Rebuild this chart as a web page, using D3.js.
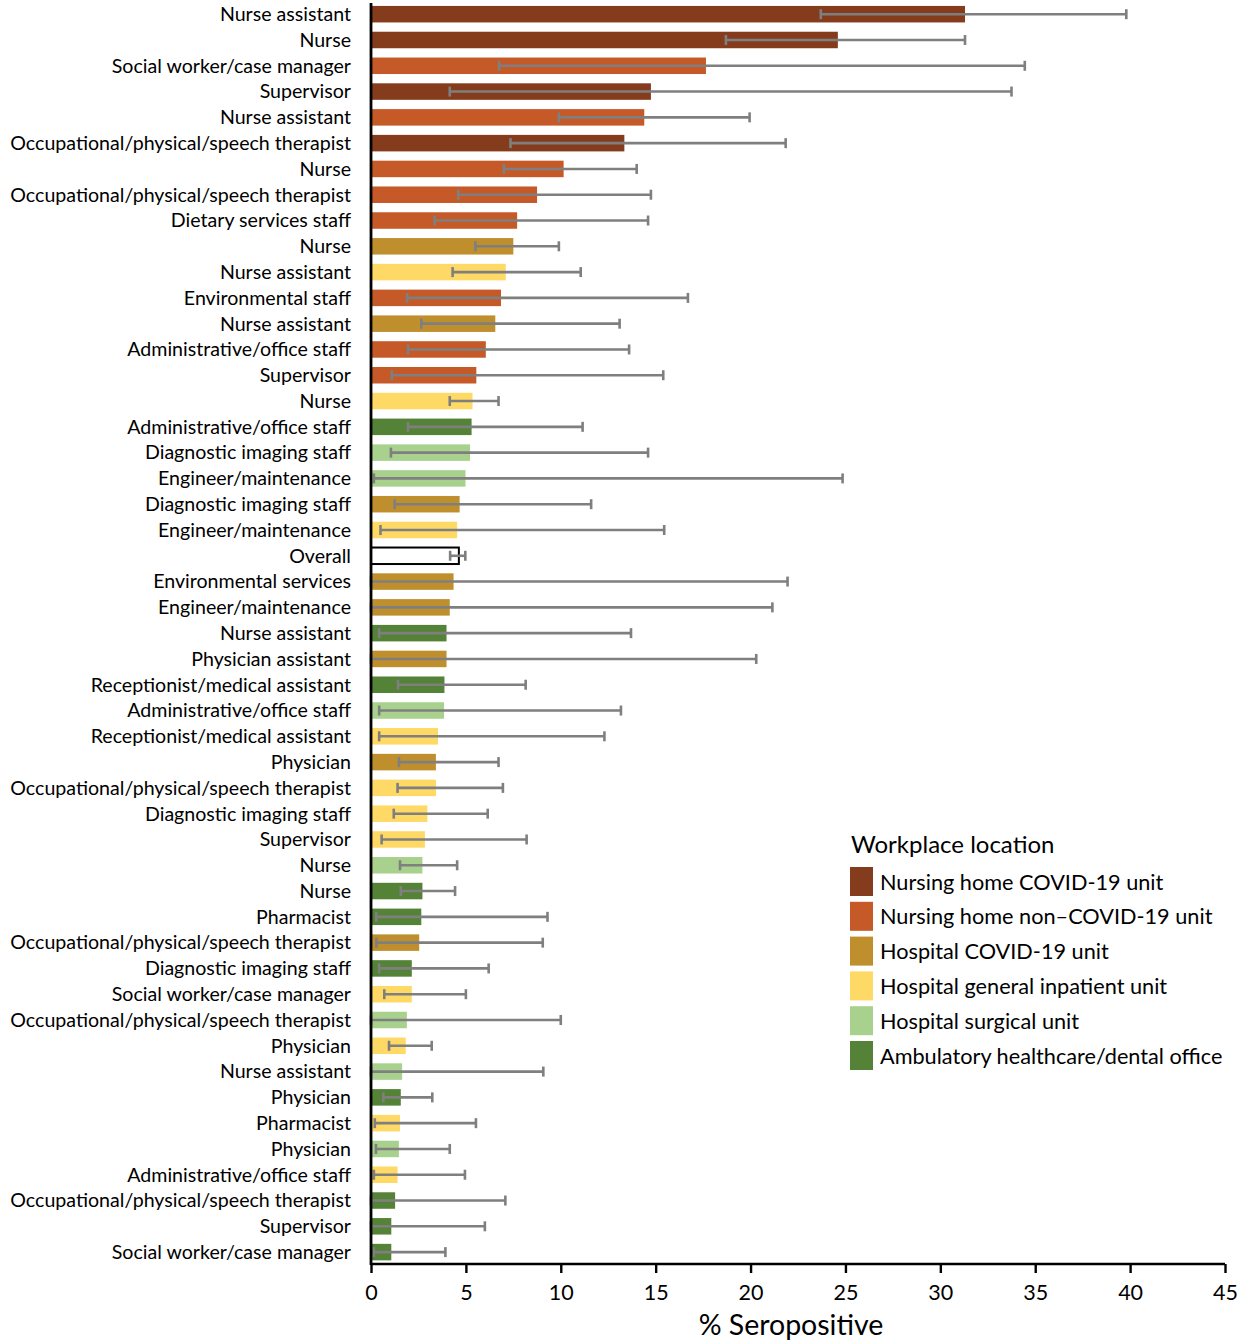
<!DOCTYPE html>
<html>
<head>
<meta charset="utf-8">
<script src="https://cdn.jsdelivr.net/npm/d3@7"></script>
<style>
  html, body { margin: 0; padding: 0; background: #fff; }
  svg { display: block; font-family: Lato, "Open Sans", sans-serif; }
</style>
</head>
<body>
<svg id="chart" width="1245" height="1340"></svg>
<script>
// Job role by workplace location, ordered by % seropositive
const roles = [
  "Nurse assistant", "Nurse", "Social worker/case manager", "Supervisor", "Nurse assistant",
  "Occupational/physical/speech therapist", "Nurse", "Occupational/physical/speech therapist",
  "Dietary services staff", "Nurse", "Nurse assistant", "Environmental staff", "Nurse assistant",
  "Administrative/office staff", "Supervisor", "Nurse", "Administrative/office staff",
  "Diagnostic imaging staff", "Engineer/maintenance", "Diagnostic imaging staff",
  "Engineer/maintenance", "Overall", "Environmental services", "Engineer/maintenance",
  "Nurse assistant", "Physician assistant", "Receptionist/medical assistant",
  "Administrative/office staff", "Receptionist/medical assistant", "Physician",
  "Occupational/physical/speech therapist", "Diagnostic imaging staff", "Supervisor", "Nurse",
  "Nurse", "Pharmacist", "Occupational/physical/speech therapist", "Diagnostic imaging staff",
  "Social worker/case manager", "Occupational/physical/speech therapist", "Physician",
  "Nurse assistant", "Physician", "Pharmacist", "Physician", "Administrative/office staff",
  "Occupational/physical/speech therapist", "Supervisor", "Social worker/case manager"
];

// Workplace location index per row (see `locations`); -1 = overall
const locationIdx = [
  0, 0, 1, 0, 1, 0, 1, 1, 1, 2, 3, 1, 2, 1, 1, 3, 5, 4, 4, 2, 3, -1, 2, 2, 5, 2, 5, 4, 3, 2,
  3, 3, 3, 4, 5, 5, 2, 5, 3, 4, 3, 4, 5, 3, 4, 3, 5, 5, 5
];

const pct = [
  31.3, 24.6, 17.65, 14.75, 14.4, 13.35, 10.15, 8.75, 7.7, 7.5, 7.1, 6.85, 6.55, 6.05, 5.55,
  5.35, 5.3, 5.22, 4.98, 4.67, 4.54, 4.63, 4.35, 4.15, 3.98, 3.98, 3.87, 3.85, 3.53, 3.42,
  3.42, 2.97, 2.84, 2.71, 2.71, 2.65, 2.54, 2.15, 2.15, 1.89, 1.83, 1.64, 1.57, 1.53, 1.47,
  1.4, 1.27, 1.07, 1.07
];

const ciLow = [
  23.7, 18.7, 6.75, 4.15, 9.9, 7.35, 7.0, 4.6, 3.35, 5.5, 4.3, 1.9, 2.65, 1.95, 1.1,
  4.15, 1.95, 1.05, 0.15, 1.25, 0.5, 4.17, 0, 0, 0.43, 0, 1.42, 0.43, 0.43, 1.47,
  1.4, 1.2, 0.56, 1.53, 1.57, 0.28, 0.28, 0.43, 0.7, 0, 0.95, 0, 0.65, 0.2, 0.26,
  0.15, 0, 0, 0.15
];

const ciHigh = [
  39.8, 31.3, 34.45, 33.75, 19.95, 21.85, 14.0, 14.75, 14.6, 9.9, 11.05, 16.7, 13.1, 13.6, 15.4,
  6.72, 11.15, 14.6, 24.85, 11.6, 15.45, 4.97, 21.95, 21.15, 13.7, 20.3, 8.15, 13.17, 12.3, 6.72,
  6.95, 6.15, 8.2, 4.54, 4.43, 9.3, 9.05, 6.2, 5.0, 10.0, 3.2, 9.08, 3.23, 5.53, 4.15,
  4.95, 7.08, 6.0, 3.92
];

const locations = [
  "Nursing home COVID-19 unit",
  "Nursing home non\u2013COVID-19 unit",
  "Hospital COVID-19 unit",
  "Hospital general inpatient unit",
  "Hospital surgical unit",
  "Ambulatory healthcare/dental office"
];
const locationColors = ["#843C1C", "#C55A28", "#BF8F2E", "#FED966", "#A9D18E", "#548236"];

const xTicks = [0, 5, 10, 15, 20, 25, 30, 35, 40, 45];
const xTitle = "% Seropositive";
const legendTitle = "Workplace location";

// ---- layout ----
const svg = d3.select("#chart");
const plotLeft = 371, plotRight = 1225, plotTop = 1.3, plotBottom = 1265;

const rows = roles.map((r, i) => ({
  i, role: r, loc: locationIdx[i], v: pct[i], lo: ciLow[i], hi: ciHigh[i]
}));

const x = d3.scaleLinear().domain([0, 45]).range([plotLeft, plotRight]);
const y = d3.scaleBand().domain(d3.range(rows.length))
  .range([plotTop, plotBottom]).paddingInner(0.36).paddingOuter(0.18);

// bars
svg.append("g").selectAll("rect").data(rows).join("rect")
  .attr("x", x(0))
  .attr("y", d => y(d.i))
  .attr("width", d => x(d.v) - x(0))
  .attr("height", y.bandwidth())
  .attr("fill", d => d.loc < 0 ? "#ffffff" : locationColors[d.loc])
  .attr("stroke", d => d.loc < 0 ? "#000000" : "none")
  .attr("stroke-width", d => d.loc < 0 ? 2 : 0);

// 95% CI whiskers
const err = svg.append("g").attr("stroke", "#7F7F7F").attr("stroke-width", 2.6);
const cy = d => y(d.i) + y.bandwidth() / 2;
err.selectAll("line.ci").data(rows).join("line")
  .attr("class", "ci")
  .attr("x1", d => x(d.lo)).attr("x2", d => x(d.hi))
  .attr("y1", cy).attr("y2", cy);
err.selectAll("line.capLo").data(rows).join("line")
  .attr("class", "capLo")
  .attr("x1", d => x(d.lo)).attr("x2", d => x(d.lo))
  .attr("y1", d => cy(d) - 5).attr("y2", d => cy(d) + 5);
err.selectAll("line.capHi").data(rows).join("line")
  .attr("class", "capHi")
  .attr("x1", d => x(d.hi)).attr("x2", d => x(d.hi))
  .attr("y1", d => cy(d) - 5).attr("y2", d => cy(d) + 5);

// category labels
svg.append("g").selectAll("text").data(rows).join("text")
  .attr("x", 351)
  .attr("y", d => cy(d))
  .attr("dy", "0.35em")
  .attr("text-anchor", "end")
  .attr("font-size", 19.6)
  .attr("fill", "#000")
  .text(d => d.role);

// x axis
const xAxis = svg.append("g")
  .attr("transform", `translate(0,${plotBottom - 1})`)
  .call(d3.axisBottom(x).tickValues(xTicks).tickSize(9).tickPadding(12).tickFormat(d3.format("d")));
xAxis.select(".domain").attr("stroke", "#000").attr("stroke-width", 2.6)
  .attr("d", `M${plotLeft},0H${plotRight}`);
xAxis.selectAll(".tick line").attr("stroke", "#000").attr("stroke-width", 2.4);
xAxis.selectAll(".tick text").attr("font-size", 21.5).attr("fill", "#000")
  .attr("font-family", "Lato, sans-serif");

// y axis line
svg.append("line")
  .attr("x1", plotLeft).attr("x2", plotLeft)
  .attr("y1", 3).attr("y2", plotBottom)
  .attr("stroke", "#000").attr("stroke-width", 2.8);

svg.append("text")
  .attr("x", 791).attr("y", 1335)
  .attr("text-anchor", "middle")
  .attr("font-size", 28.5)
  .attr("fill", "#000")
  .text(xTitle);

// legend
const legend = svg.append("g");
legend.append("text")
  .attr("x", 851).attr("y", 853)
  .attr("font-size", 24).attr("fill", "#000")
  .text(legendTitle);
const item = legend.selectAll("g.item").data(locations).join("g")
  .attr("class", "item")
  .attr("transform", (d, i) => `translate(850,${867 + i * 34.8})`);
item.append("rect")
  .attr("width", 23).attr("height", 29)
  .attr("fill", (d, i) => locationColors[i]);
item.append("text")
  .attr("x", 30).attr("y", 15).attr("dy", "0.35em")
  .attr("font-size", 21.7).attr("fill", "#000")
  .text(d => d);
</script>
</body>
</html>
